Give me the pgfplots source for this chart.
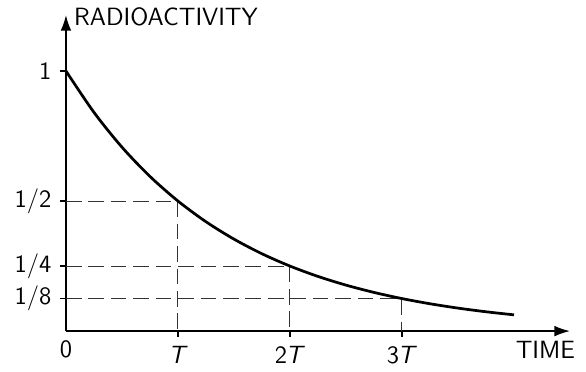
\documentclass[border=0pt]{standalone}
\usepackage{fontspec}
\usepackage{pgfplots}
\pgfplotsset{compat=1.18}
\usetikzlibrary{arrows.meta}
\newcommand{\bigsf}{\fontsize{12.8}{15}\selectfont\sffamily}
\begin{document}
\begin{tikzpicture}
\begin{axis}[
  x=57.4pt, y=133.3pt,
  axis lines=left,
  axis line style={line width=0.8pt, -{Latex[length=8pt,width=5.5pt]}},
  xmin=0, xmax=4.5, ymin=0, ymax=1.215,
  clip=false,
  tick align=outside,
  major tick length=3pt,
  tick style={line width=0.6pt, black},
  xtick={1,2,3},
  xticklabels={\textit{T}, 2\kern-0.8pt\textit{T}, 3\kern-0.8pt\textit{T}},
  extra x ticks={0},
  extra x tick labels={0},
  extra x tick style={major tick length=0pt},
  ytick={0.125,0.25,0.5,1},
  yticklabels={1/8, 1/4, 1/2, 1},
  xticklabel style={yshift=-1.5pt, font=\bigsf},
  yticklabel style={xshift=-1pt, font=\bigsf},
]
\path (axis cs:-0.589,-0.127) rectangle (axis cs:4.643,1.273);
\addplot[black!80, line width=0.5pt, dash pattern=on 8pt off 3.5pt] coordinates {(0,0.5) (1,0.5) (1,0)};
\addplot[black!80, line width=0.5pt, dash pattern=on 8pt off 3.5pt] coordinates {(0,0.25) (2,0.25) (2,0)};
\addplot[black!80, line width=0.5pt, dash pattern=on 8pt off 3.5pt] coordinates {(0,0.125) (3,0.125) (3,0)};
\addplot[black, line width=1.4pt, smooth] coordinates {
(0,1) (0.25,0.8409) (0.5,0.7071) (0.75,0.5946) (1,0.5) (1.25,0.4204) (1.5,0.3536) (1.75,0.2973) (2,0.25) (2.25,0.2102) (2.5,0.1768) (2.75,0.1487) (3,0.125) (3.25,0.1051) (3.5,0.0884) (3.75,0.0743) (4,0.0625)};
\node[anchor=west, inner sep=0pt, font=\bigsf] at (axis cs:0.07,1.21) {RADIOACTIVITY};
\node[inner sep=0pt, font=\bigsf] at (axis cs:4.28,-0.073) {TIME};
\end{axis}
\end{tikzpicture}
\end{document}
